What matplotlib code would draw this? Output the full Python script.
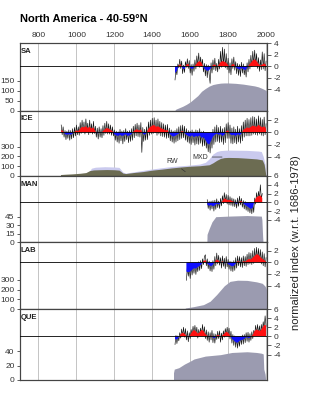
import numpy as np
import matplotlib.pyplot as plt

plt.rcParams['font.family'] = ['Liberation Sans', 'DejaVu Sans']
plt.rcParams['axes.unicode_minus'] = False

# ---- data ----
# raw index every 5 yr, smoothed index every 10 yr, both starting at *_start

sa_start = 1520
sa_raw = [-2.4, -0.6, -1.5, 0.4, -0.3, 1.2, -0.4, 0.9, -1.3, 0.2,
          -1.1, 0.8, -0.2, 1.3, -0.4, 1.0, -1.2, 0.3, -1.6, 0.4,
          -0.9, 1.1, -0.5, 1.8, 0.1, 2.3, -0.2, 1.6, -0.1, 1.2,
          -1.0, 0.5, -1.7, 0.3, -2.0, 0.2, -1.4, -3.0, 0.6, -1.2,
          1.1, -0.6, 1.4, -0.8, 0.5, -1.0, 1.2, -0.5, 2.6, -0.2,
          3.3, 0.1, 3.0, -0.3, 2.2, -0.6, 1.4, -1.2, 0.6, -1.5,
          1.3, -0.4, 1.6, -0.7, 0.8, -1.3, 0.5, -1.6, 0.3, -1.8,
          0.7, -1.2, 0.4, -1.5, -0.2, -1.9, 0.6, -1.0, 1.2, -0.5,
          1.9, -0.1, 2.6, 0.3, 2.8, 0.2, 2.2, -0.4, 1.5, -0.9,
          1.1, -0.6, 2.5, -0.5, 2.2, -0.8, 0.9]
sa_smooth = [-1.2, -0.8, 0.2, 0.3, -0.4, -0.5, 0.3, 0.4, -0.3, -0.5,
             -0.2, 0.3, 0.7, 0.9, 0.6, -0.2, -0.6, -0.8, -0.7, -0.3,
             0.2, 0.3, -0.1, 0.2, 0.7, 0.9, 0.8, 0.6, 0.2, -0.3,
             0.3, 0.4, -0.2, -0.4, -0.6, -0.3, -0.5, -0.7, -0.3, 0.2,
             0.6, 1.0, 1.2, 0.9, 0.4, 0.1, 0.3, 0.5, 0.2]
sa_depth_years = [1520, 1525, 1540, 1560, 1580, 1600, 1620, 1640, 1660, 1680, 1700, 1720,
                  1740, 1760, 1780, 1800, 1820, 1840, 1860, 1880, 1900, 1920, 1940, 1960,
                  1980, 1995, 2003]
sa_depth = [3, 8, 14, 22, 32, 44, 60, 76, 98, 112, 124, 132,
            136, 139, 140, 140, 139, 138, 136, 134, 131, 128, 125, 120,
            112, 105, 100]

ice_start = 920
ice_raw = [1.2, -0.4, 0.9, -0.8, 0.3, -1.2, 0.2, -1.0, 0.4, -1.3,
           0.3, -1.1, 0.6, -0.9, 0.8, -0.6, 1.2, -0.4, 0.9, -0.5,
           1.6, -0.2, 2.0, 0.1, 1.7, -0.3, 2.2, 0.2, 1.5, -0.4,
           2.0, -0.1, 1.4, -0.3, 1.8, -0.2, 1.0, -0.8, 0.7, -1.1,
           0.9, -0.8, 0.6, -0.9, 1.1, -0.5, 1.5, -0.2, 1.8, -0.3,
           1.4, -0.3, 1.2, -0.5, 0.9, -0.6, 0.4, -1.3, 0.2, -1.6,
           0.1, -1.8, 0.5, -1.4, 0.2, -1.9, 0.3, -1.5, 0.6, -1.2,
           0.2, -1.7, 0.3, -1.5, 0.6, -1.3, 1.0, -0.9, 1.3, -0.6,
           1.5, -0.7, 1.2, -0.8, 1.6, -3.3, 0.8, -1.5, 0.5, -1.3,
           0.9, -1.2, 1.7, -0.5, 2.0, -0.3, 2.3, -0.2, 2.4, -0.1,
           2.0, -0.5, 2.2, -0.3, 1.8, -0.6, 1.6, -0.7, 1.4, -0.8,
           1.2, -1.0, 1.3, -0.9, 0.7, -1.4, 0.4, -1.6, 0.2, -1.8,
           0.3, -1.6, 0.6, -1.4, 0.9, -1.2, 1.1, -1.0, 1.2, -0.9,
           1.0, -1.3, 0.6, -1.6, 0.3, -1.8, 0.2, -2.0, 0.4, -1.7,
           0.1, -2.1, 0.4, -1.9, 0.3, -2.0, 0.6, -1.8, 0.1, -2.3,
           0.2, -2.2, -0.3, -2.6, -0.8, -3.2, -0.9, -3.4, -0.5, -2.6,
           0.5, -2.0, 0.9, -1.6, 1.2, -1.5, 0.8, -1.7, 1.0, -1.6,
           0.6, -2.0, 0.8, -1.7, 1.4, -1.0, 1.6, -1.0, 1.2, -1.8,
           0.7, -1.9, 0.9, -1.7, 0.5, -1.9, 1.0, -1.6, 0.6, -1.8,
           1.1, -1.4, 1.7, -0.8, 2.0, -0.6, 2.3, -0.6, 2.1, -0.6,
           2.4, -0.5, 2.6, -0.3, 2.5, -0.4, 2.2, -0.5, 2.7, -0.3,
           2.4, -0.5, 2.1, -0.6, 2.5, -0.4, 1.4]
ice_smooth = [0.4, 0.2, -0.3, -0.4, -0.3, -0.4, -0.2, 0.1, 0.3, 0.2,
              0.6, 0.9, 0.8, 1.0, 0.7, 0.9, 0.6, 0.8, 0.2, -0.2,
              0.1, -0.1, 0.2, 0.5, 0.7, 0.6, 0.4, 0.2, -0.3, -0.5,
              -0.6, -0.4, -0.6, -0.5, -0.3, -0.6, -0.5, -0.3, 0.1, 0.4,
              0.5, 0.3, 0.5, -0.2, -0.4, -0.1, 0.6, 0.9, 1.1, 1.2,
              0.9, 1.0, 0.8, 0.6, 0.5, 0.3, 0.4, -0.2, -0.5, -0.7,
              -0.6, -0.4, -0.2, 0.1, 0.2, -0.1, -0.4, -0.6, -0.7, -0.5,
              -0.8, -0.6, -0.7, -0.5, -0.9, -0.8, -1.2, -1.8, -2.0, -1.4,
              -0.7, -0.4, -0.2, -0.4, -0.3, -0.6, -0.4, 0.2, 0.3, -0.3,
              -0.5, -0.4, -0.6, -0.3, -0.5, -0.2, 0.4, 0.6, 0.8, 0.7,
              0.9, 1.1, 1.0, 0.9, 1.2, 1.0, 0.8, 1.0, 0.6]
ice_rw_years = [916, 940, 980, 1020, 1050, 1070, 1090, 1120, 1160, 1200, 1225, 1245,
                1260, 1300, 1350, 1400, 1450, 1500, 1550, 1600, 1650, 1700, 1720, 1740,
                1760, 1780, 1800, 1850, 1900, 1950, 1980, 1990, 1998, 2001]
ice_rw = [15, 18, 22, 28, 35, 55, 62, 64, 66, 64, 60, 30,
          25, 35, 45, 60, 70, 82, 92, 100, 105, 115, 135, 160,
          180, 188, 190, 188, 182, 175, 165, 120, 20, 0]
ice_mxd_years = [1060, 1080, 1100, 1150, 1200, 1225, 1245, 1260, 1300, 1400, 1500, 1600,
                 1650, 1680, 1700, 1720, 1740, 1760, 1800, 1900, 1960, 1975, 1985, 1995, 2001]
ice_mxd = [30, 80, 90, 95, 92, 88, 40, 30, 42, 72, 97, 112,
           122, 140, 175, 225, 250, 260, 265, 262, 255, 250, 200, 120, 0]

man_start = 1690
man_raw = [0.6, -1.4, 0.2, -1.8, 0.3, -1.5, 0.4, -2.0, 0.5, -1.6,
           0.8, -1.2, 0.3, -1.4, 0.9, -0.8, 1.5, -0.3, 2.2, 0.1,
           1.8, -0.4, 1.6, -0.6, 1.3, -0.7, 1.0, -0.9, 0.8, -1.0,
           0.6, -1.3, 1.0, -0.9, 1.4, -0.6, 0.9, -1.1, 0.4, -1.5,
           0.2, -1.8, -0.1, -2.1, -0.3, -2.4, -0.5, -2.6, -0.2, -2.3,
           1.0, -0.4, 2.2, 0.3, 2.5, 0.6, 4.0, 0.8, 2.0]
man_smooth = [-0.5, -0.8, -0.6, -0.9, -0.7, -0.3, -0.5, -0.2, 0.3, 0.9,
              0.7, 0.5, 0.6, 0.3, 0.1, -0.3, -0.2, 0.2, 0.3, -0.2,
              -0.6, -0.9, -1.2, -1.5, -1.2, 0.4, 1.2, 1.4, 1.6, 1.0]
man_depth_years = [1688, 1689, 1700, 1715, 1735, 1800, 1900, 1975, 1978, 1982, 1984]
man_depth = [0, 14, 24, 36, 45, 46, 47, 46, 40, 10, 0]

lab_start = 1580
lab_raw = [-3.1, -0.8, -2.4, -1.0, -2.8, -0.6, -2.2, -0.5, -1.9, -0.2,
           -2.1, -0.3, -1.6, 0.1, -1.4, 0.3, -1.1, 0.6, -0.4, 1.0,
           1.3, -0.6, 0.6, -1.1, 0.2, -1.5, -0.1, -1.6, 0.3, -1.2,
           1.0, -0.6, 1.6, -0.3, 1.2, -0.5, 0.8, -1.0, 1.1, -0.7,
           0.7, -1.1, 1.0, -0.8, 0.5, -1.2, 0.2, -1.5, 0.1, -1.6,
           0.3, -1.4, 0.8, -1.0, 1.1, -0.6, 1.0, -0.8, 0.8, -0.9,
           1.1, -0.6, 1.0, -0.7, 1.4, -0.4, 1.7, -0.3, 1.6, -0.4,
           2.0, -0.2, 2.4, 0.2, 2.6, 0.3, 2.4, 0.1, 2.2, -0.3,
           1.8, -0.6, 1.5, -0.8, 0.8]
lab_smooth = [-1.6, -1.7, -1.6, -1.3, -1.0, -1.1, -0.8, -0.6, -0.3, 0.2,
              0.4, -0.2, -0.5, -0.7, -0.4, 0.1, 0.5, 0.3, -0.1, 0.2,
              -0.2, 0.1, -0.3, -0.5, -0.7, -0.6, -0.2, 0.2, 0.1, -0.1,
              0.2, 0.1, 0.4, 0.6, 0.5, 0.8, 1.1, 1.4, 1.3, 0.9,
              0.6, 0.4, 0.1]
lab_depth_years = [1574, 1620, 1670, 1705, 1740, 1780, 1810, 1850, 1900, 1950, 1980, 1995, 2003]
lab_depth = [10, 25, 45, 80, 150, 240, 285, 297, 295, 280, 265, 235, 200]

que_start = 1520
que_raw = [-1.8, 0.2, -1.6, 0.1, -1.0, 0.8, -0.4, 1.6, 0.1, 2.0,
           -0.2, 1.7, -0.8, 1.2, -1.2, 0.8, -0.5, 1.5, 0.2, 2.2,
           0.6, 2.4, 0.3, 2.0, -0.4, 1.5, 0.2, 1.8, 0.4, 2.6,
           0.3, 2.1, -0.5, 1.4, -0.9, 1.0, -1.3, 0.8, -0.8, 1.3,
           -1.4, 0.6, -1.5, 0.5, -0.7, 1.1, -0.5, 1.2, -1.3, 0.7,
           -0.8, 1.2, -0.2, 1.7, 0.4, 2.0, 0.1, 1.8, -0.6, 1.1,
           -1.5, 0.4, -2.0, 0.1, -2.4, -0.3, -2.6, -0.4, -2.2, 0.0,
           -1.8, 0.3, -1.7, 0.4, -1.4, 0.8, -1.1, 0.9, -1.3, 0.6,
           -0.9, 1.0, -0.5, 1.3, 0.4, 2.4, 0.6, 2.6, 0.5, 2.3,
           0.4, 2.6, 1.0, 3.2, 1.6, 4.5, 2.2]
que_smooth = [-0.6, -0.7, -0.2, 0.5, 0.8, 0.6, 0.1, -0.2, 0.3, 1.0,
              1.4, 1.1, 0.6, 0.9, 1.4, 1.2, 0.5, 0.1, -0.2, 0.2,
              -0.3, -0.4, 0.2, 0.3, -0.2, 0.2, 0.6, 1.0, 0.8, 0.2,
              -0.5, -0.9, -1.3, -1.4, -1.0, -0.8, -0.7, -0.3, -0.2, -0.4,
              -0.1, 0.3, 1.2, 1.5, 1.3, 1.2, 1.8, 2.5, 2.4]
que_depth_years = [1512, 1516, 1540, 1570, 1600, 1620, 1650, 1680, 1720, 1760, 1800, 1820,
                   1900, 1950, 1975, 1985, 1988, 1995, 1998]
que_depth = [10, 15, 17, 22, 26, 29, 31, 33, 34, 35, 37, 38,
             39, 38, 37, 36, 15, 8, 0]

year_ticks = [800, 1000, 1200, 1400, 1600, 1800, 2000]

RED = '#ff1010'
BLUE = '#1010ff'
DEPTH = '#9b9bb0'
RW_COL = '#6c6c52'
MXD_COL = '#cacaee'
FRAME = '#444444'

W, H = 320, 395
X0, X1 = 19.5, 267


def panel_rect(top, bottom):
    return [X0 / W, 1 - bottom / H, (X1 - X0) / W, (bottom - top) / H]


def draw_panel(fig, top, bottom, name, start, raw, smooth, idx_lim, idx_ticks,
               depth_lim, depth_ticks, depth_layers, first=False):
    ax = fig.add_axes(panel_rect(top, bottom))
    ax2 = ax.twinx()

    ax.set_xlim(700, 2005)
    for yr in year_ticks:
        ax.axvline(yr, color='#c4c4c4', lw=0.7, zorder=0)

    for yrs, vals, col in depth_layers:
        ax.fill_between(yrs, 0, vals, color=col, lw=0, zorder=1)
    ax.set_ylim(*depth_lim)
    ax.set_yticks(depth_ticks)

    raw_years = start + 5 * np.arange(len(raw))
    smooth_years = start + 10 * np.arange(len(smooth))
    s = np.array(smooth)
    # thin annual-ish line first, smoothed red/blue fill over it
    ax2.plot(raw_years, raw, color='#111111', lw=0.45, zorder=1)
    ax2.fill_between(smooth_years, 0, s, where=s >= 0, interpolate=True, color=RED, lw=0, zorder=2)
    ax2.fill_between(smooth_years, 0, s, where=s <= 0, interpolate=True, color=BLUE, lw=0, zorder=2)
    ax2.axhline(0, color='black', lw=0.6, zorder=3)
    ax2.set_ylim(*idx_lim)
    ax2.set_yticks(idx_ticks)

    ax.set_xticks(year_ticks)
    if first:
        ax.xaxis.tick_top()
        ax.tick_params(axis='x', length=0, pad=3, labelsize=6, labelcolor='#333333')
    else:
        ax.tick_params(axis='x', length=0, labelbottom=False)

    ax.tick_params(axis='y', direction='out', length=2.5, width=0.6, pad=1,
                   labelsize=6, labelcolor='#333333', color=FRAME)
    ax2.tick_params(axis='y', direction='out', length=3, width=0.6, pad=2,
                    labelsize=6, labelcolor='#333333', color=FRAME)
    for a in (ax, ax2):
        for sp in a.spines.values():
            sp.set_color(FRAME)
            sp.set_linewidth(0.8)

    ax2.text(0.006, 0.93, name, transform=ax2.transAxes, fontsize=5.5,
             fontweight='bold', va='top', ha='left', color='#222222')
    return ax, ax2


def main():
    fig = plt.figure(figsize=(3.2, 3.95), dpi=100)

    draw_panel(fig, 43.3, 110.7, 'SA', sa_start, sa_raw, sa_smooth,
               (-7.77, 3.95), [4, 2, 0, -2, -4], (0, 340), [0, 50, 100, 150],
               [(sa_depth_years, sa_depth, DEPTH)], first=True)

    ice_ax, _ = draw_panel(fig, 110.7, 176, 'ICE', ice_start, ice_raw, ice_smooth,
                           (-7.16, 3.54), [2, 0, -2, -4], (0, 668), [0, 100, 200, 300],
                           [(ice_mxd_years, ice_mxd, MXD_COL), (ice_rw_years, ice_rw, RW_COL)])
    ice_ax.annotate('RW', xy=(1574, 44), xytext=(1505, 146), fontsize=5, color='#333333',
                    ha='center', va='center', zorder=5,
                    arrowprops=dict(arrowstyle='-', color='#333333', lw=0.5, shrinkA=1, shrinkB=0))
    ice_ax.annotate('MXD', xy=(1768, 194), xytext=(1653, 194), fontsize=5, color='#333333',
                    ha='center', va='center', zorder=5,
                    arrowprops=dict(arrowstyle='-', color='#333333', lw=0.5, shrinkA=1, shrinkB=0))

    draw_panel(fig, 176, 242.3, 'MAN', man_start, man_raw, man_smooth,
               (-9.1, 6), [6, 4, 2, 0, -2, -4], (0, 116.5), [0, 15, 30, 45],
               [(man_depth_years, man_depth, DEPTH)])

    draw_panel(fig, 242.3, 309, 'LAB', lab_start, lab_raw, lab_smooth,
               (-8.05, 3.45), [2, 0, -2, -4], (0, 688), [0, 100, 200, 300],
               [(lab_depth_years, lab_depth, DEPTH)])

    draw_panel(fig, 309, 380, 'QUE', que_start, que_raw, que_smooth,
               (-9.6, 6), [6, 4, 2, 0, -2, -4], (0, 98), [0, 20, 40],
               [(que_depth_years, que_depth, DEPTH)])

    fig.text(X0 / W, 1 - 18.5 / H, 'North America - 40-59°N', fontsize=8,
             fontweight='bold', ha='left', va='center')
    fig.text(296 / W, 1 - 243 / H, 'normalized index (w.r.t. 1686-1978)',
             rotation=90, ha='center', va='center', fontsize=8, color='#222222')

    fig.savefig('out.png', dpi=100)


if __name__ == '__main__':
    main()
